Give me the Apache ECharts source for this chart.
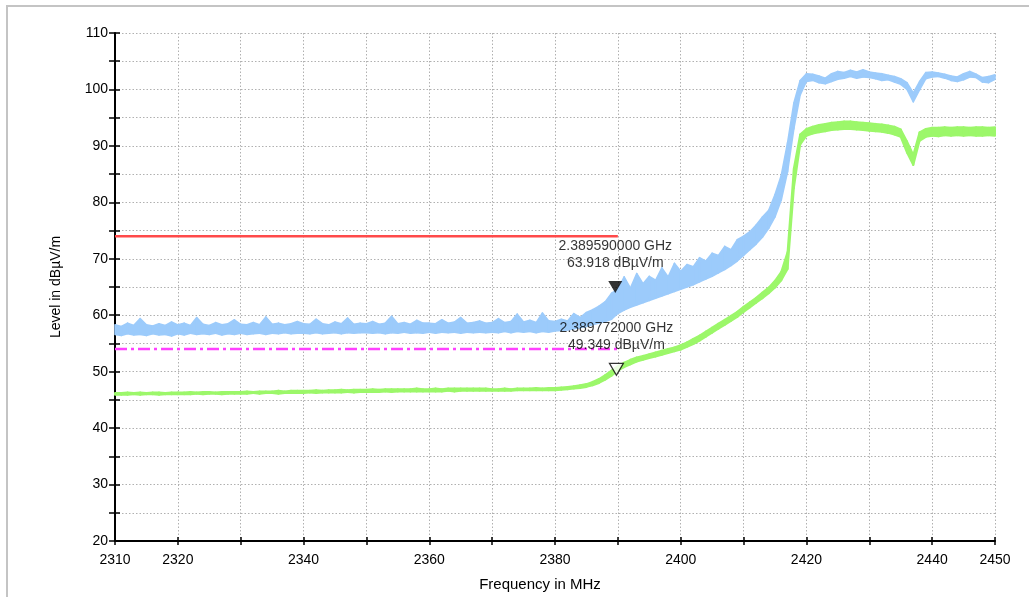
<!DOCTYPE html>
<html><head><meta charset="utf-8">
<script src="https://cdn.jsdelivr.net/npm/echarts@6/dist/echarts.min.js"></script>
<style>html,body{margin:0;padding:0;background:#fff}#c{width:1029px;height:597px}</style>
</head><body><div id="c"></div>
<script>
// Both traces sampled every 1 MHz from 2310 to 2450 (MHz); each trace is a noisy band given by its lower and upper edge (dBµV/m)
const traceStart = 2310;
const traceStep = 1;
// Peak trace (light blue)
const peakLow = [
56.6,56.4,56.7,56.5,56.6,56.4,56.7,56.5,56.6,56.3,
56.7,56.5,56.8,56.6,56.7,56.6,56.8,56.5,56.7,56.6,
56.8,56.6,56.7,56.8,56.6,56.8,56.7,56.9,56.7,56.8,
56.8,56.7,56.9,56.7,56.8,56.9,56.7,56.9,56.8,56.9,
56.9,56.8,56.9,56.7,56.9,56.8,57.0,56.8,56.9,56.8,
57.0,56.8,57.0,56.9,57.0,56.8,57.0,56.9,57.0,56.9,
57.0,56.9,57.1,56.9,57.1,57.0,57.1,56.9,57.1,57.0,
57.2,57.3,57.4,57.6,57.8,58.0,58.3,58.6,58.9,59.3,
60.3,60.9,61.4,61.8,62.2,62.6,63.0,63.4,63.8,64.2,
64.6,65.0,65.4,65.9,66.4,66.9,67.5,68.1,68.8,69.6,
70.6,71.6,72.6,73.8,75.4,77.4,80.4,85.4,93.0,99.0,
101.4,101.6,101.2,101.0,101.4,101.8,102.0,102.3,102.0,102.2,
102.1,101.9,101.6,101.7,101.3,100.9,100.0,97.8,99.9,101.9,
102.2,102.3,102.0,101.6,101.4,101.7,102.2,102.1,101.3,101.2,101.8
];
const peakHigh = [
58.3,58.0,58.6,58.2,59.4,58.3,58.1,58.5,58.2,58.8,
58.3,58.6,58.2,59.6,58.4,58.2,58.7,58.3,58.5,59.2,
58.4,58.3,58.7,58.3,59.7,58.4,58.6,58.3,58.5,58.9,
58.5,58.4,59.3,58.5,58.3,58.8,58.5,59.5,58.4,58.6,
58.5,58.9,58.4,58.6,59.8,58.5,58.7,58.4,59.1,58.6,
58.6,58.5,59.2,58.6,58.8,59.6,58.6,58.7,59.0,58.6,
58.7,59.4,58.7,58.9,60.2,58.8,59.1,58.7,60.4,59.0,
58.9,59.3,59.0,60.3,59.6,60.5,61.0,61.6,62.4,63.9,
64.6,66.8,64.8,67.4,65.6,66.9,66.2,68.4,66.8,69.2,
67.8,69.0,68.6,70.2,69.6,71.0,70.6,72.2,71.6,73.4,
74.0,74.8,76.0,77.4,78.6,81.4,84.8,90.6,97.6,101.6,
102.8,102.7,102.4,102.0,102.8,103.2,103.0,103.4,103.1,103.5,
103.1,102.9,102.8,102.5,102.3,101.9,101.2,99.4,101.4,103.0,
103.1,102.9,102.7,102.4,102.2,102.8,103.2,102.7,102.1,102.3,102.6
];
// Average trace (green)
const avgLow = [
45.9,45.9,45.9,46.0,45.9,46.0,46.0,45.9,46.0,46.0,
46.0,46.0,46.0,46.1,46.0,46.1,46.1,46.0,46.1,46.1,
46.1,46.1,46.2,46.1,46.2,46.2,46.1,46.2,46.2,46.2,
46.2,46.3,46.2,46.3,46.3,46.3,46.3,46.4,46.3,46.4,
46.4,46.4,46.4,46.5,46.4,46.5,46.5,46.5,46.5,46.5,
46.5,46.5,46.5,46.6,46.5,46.6,46.6,46.6,46.6,46.6,
46.6,46.6,46.6,46.6,46.7,46.7,46.7,46.7,46.7,46.7,
46.7,46.8,46.9,47.0,47.1,47.3,47.6,48.0,48.6,49.3,
50.2,50.8,51.3,51.8,52.1,52.4,52.7,53.0,53.3,53.6,
53.9,54.4,54.9,55.5,56.2,56.9,57.6,58.3,59.0,59.7,
60.6,61.4,62.2,63.0,63.9,64.9,66.2,68.2,82.5,90.2,
91.8,92.2,92.4,92.6,92.8,92.9,93.0,93.0,92.9,92.8,
92.7,92.6,92.5,92.3,92.0,91.6,88.8,86.6,90.9,91.6,
91.8,91.7,91.9,91.8,91.9,91.8,91.9,91.8,91.8,91.9,91.8
];
const avgHigh = [
46.2,46.2,46.3,46.2,46.3,46.2,46.3,46.3,46.2,46.3,
46.3,46.3,46.4,46.3,46.4,46.4,46.3,46.4,46.4,46.4,
46.4,46.5,46.4,46.5,46.5,46.5,46.6,46.5,46.6,46.6,
46.6,46.6,46.7,46.6,46.7,46.7,46.8,46.7,46.8,46.8,
46.8,46.9,46.8,46.9,46.9,46.9,46.9,46.9,47.0,46.9,
46.9,47.0,46.9,47.0,47.0,47.0,47.0,47.0,47.0,47.0,
46.9,46.9,47.0,46.9,47.0,47.0,47.0,47.1,47.0,47.1,
47.1,47.2,47.3,47.4,47.6,47.8,48.2,48.7,49.4,50.2,
51.0,51.6,52.1,52.5,52.8,53.1,53.4,53.7,54.0,54.3,
54.7,55.2,55.8,56.4,57.1,57.8,58.5,59.2,59.9,60.6,
61.5,62.3,63.1,64.0,64.9,66.1,67.7,71.2,86.0,92.0,
93.0,93.4,93.7,93.9,94.1,94.2,94.3,94.3,94.2,94.1,
94.0,93.9,93.8,93.6,93.4,92.9,90.8,88.4,92.4,93.0,
93.2,93.2,93.3,93.2,93.3,93.3,93.2,93.3,93.3,93.2,93.3
];
// Limit lines
const limitFreq = [2310, 2390];
const peakLimit = [74, 74];
const avgLimit = [54, 54];
// Markers
const markerFreq = [2389.59, 2389.772];
const markerLevel = [63.918, 49.349];
const markerText = [['2.389590000 GHz', '63.918 dBµV/m'], ['2.389772000 GHz', '49.349 dBµV/m']];
// Axis ticks
const xLabelsShown = [2310, 2320, 2340, 2360, 2380, 2400, 2420, 2440, 2450];
const xMin = 2310, xMax = 2450, xStep = 10;
const yMin = 20, yMax = 110, yStep = 5, yLabelStep = 10;

const FONT = '"Liberation Sans", Arial, sans-serif';
const grid = { left: 115, right: 34, top: 33, bottom: 56 };
const dotted = { show: true, lineStyle: { color: '#b0b0b0', width: 1, type: [1.5, 2] } };

// A noisy trace drawn as a filled band between its lower and upper edges, segment by segment
function bandSeries(name, low, high, color, strokeWidth, z) {
  const data = [];
  for (let i = 0; i < low.length - 1; i++) {
    const f0 = traceStart + traceStep * i, f1 = traceStart + traceStep * (i + 1);
    data.push([f0, low[i], high[i], f1, low[i + 1], high[i + 1]]);
  }
  return {
    name: name, type: 'custom', z: z, data: data,
    encode: { x: [0, 3], y: [1, 2, 4, 5] },
    renderItem: function (params, api) {
      const a = api.coord([api.value(0), api.value(1)]);
      const b = api.coord([api.value(3), api.value(4)]);
      const c = api.coord([api.value(3), api.value(5)]);
      const d = api.coord([api.value(0), api.value(2)]);
      return { type: 'polygon', shape: { points: [a, b, c, d] },
        style: { fill: color, stroke: color, lineWidth: strokeWidth, lineJoin: 'round' } };
    }
  };
}

const chart = echarts.init(document.getElementById('c'), null, { renderer: 'canvas' });
chart.setOption({
  animation: false,
  backgroundColor: '#fff',
  graphic: [{ type: 'rect', shape: { x: 7, y: 6, width: 1060, height: 640 }, style: { fill: 'none', stroke: '#c4c4c4', lineWidth: 2 }, z: -1 }],
  grid: grid,
  xAxis: [{
    type: 'value', min: xMin, max: xMax, interval: xStep, position: 'bottom',
    name: 'Frequency in MHz', nameLocation: 'middle', nameGap: 36,
    nameTextStyle: { fontFamily: FONT, fontSize: 15, color: '#000', padding: [0, 30, 0, 0] },
    axisLine: { show: true, lineStyle: { color: '#000', width: 2 } },
    axisTick: { show: true, length: 4, lineStyle: { color: '#000', width: 1.5 } },
    axisLabel: { margin: 12, fontFamily: FONT, fontSize: 14, color: '#000', showMinLabel: true, showMaxLabel: true,
      formatter: v => xLabelsShown.indexOf(v) >= 0 ? String(v) : '' },
    splitLine: dotted
  }, {
    type: 'value', min: xMin, max: xMax, interval: xStep, position: 'bottom', offset: 0,
    axisLine: { show: false }, axisLabel: { show: false }, splitLine: { show: false },
    axisTick: { show: true, inside: true, length: 4, lineStyle: { color: '#000', width: 1.5 } }
  }],
  yAxis: [{
    type: 'value', min: yMin, max: yMax, interval: yStep, position: 'left',
    name: 'Level in dBµV/m', nameLocation: 'middle', nameGap: 52,
    nameTextStyle: { fontFamily: FONT, fontSize: 14, color: '#000' },
    axisLine: { show: true, lineStyle: { color: '#000', width: 2 } },
    axisTick: { show: true, length: 6, lineStyle: { color: '#000', width: 1.5 } },
    axisLabel: { margin: 7, fontFamily: FONT, fontSize: 14, color: '#000',
      formatter: v => (v % yLabelStep === 0) ? String(v) : '' },
    splitLine: dotted
  }, {
    type: 'value', min: yMin, max: yMax, interval: yStep, position: 'left', offset: 0,
    axisLine: { show: false }, axisLabel: { show: false }, splitLine: { show: false },
    axisTick: { show: true, inside: true, length: 5, lineStyle: { color: '#000', width: 1.5 } }
  }],
  series: [
    bandSeries('Peak', peakLow, peakHigh, '#9ccbfb', 1.5, 2),
    bandSeries('Average', avgLow, avgHigh, '#9cf76a', 2, 3),
    { name: 'Peak limit', type: 'line', data: limitFreq.map((f, i) => [f, peakLimit[i]]), symbol: 'none',
      lineStyle: { color: '#ff4a4a', width: 2.5 }, z: 4 },
    { name: 'Average limit', type: 'line', data: limitFreq.map((f, i) => [f, avgLimit[i]]), symbol: 'none',
      lineStyle: { color: '#ff40ff', width: 2.5, type: [12, 4, 3, 4] }, z: 4 },
    { name: 'Marker 1', type: 'scatter', symbol: 'triangle', symbolRotate: 180, symbolSize: [14, 12], symbolOffset: [0, -6],
      data: [[markerFreq[0], markerLevel[0]]],
      itemStyle: { color: '#000' }, z: 6,
      label: { show: true, position: 'top', distance: 9, fontFamily: FONT, fontSize: 14, color: '#000', lineHeight: 17, align: 'center',
        formatter: markerText[0].join('\n') } },
    { name: 'Marker 2', type: 'scatter', symbol: 'triangle', symbolRotate: 180, symbolSize: [14, 12], symbolOffset: [0, -6],
      data: [[markerFreq[1], markerLevel[1]]],
      itemStyle: { color: '#fff', borderColor: '#000', borderWidth: 1.2 }, z: 6,
      label: { show: true, position: 'top', distance: 9, fontFamily: FONT, fontSize: 14, color: '#000', lineHeight: 17, align: 'center',
        formatter: markerText[1].join('\n') } }
  ]
});
</script></body></html>
